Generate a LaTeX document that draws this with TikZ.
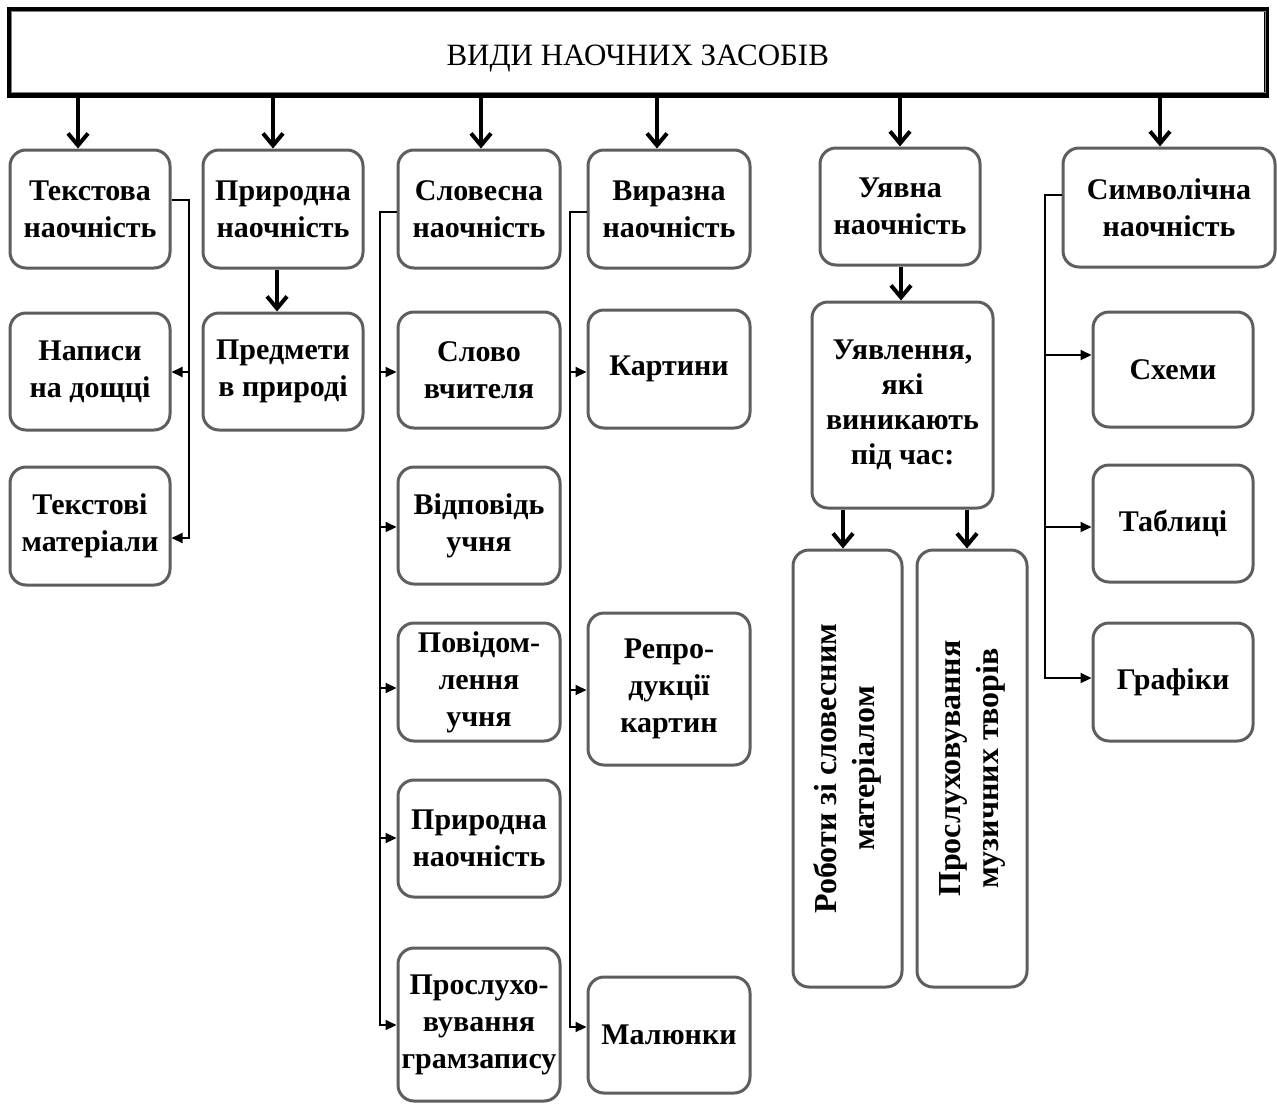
\documentclass[tikz,border=0pt]{standalone}
\usepackage{fontspec}
\usepackage{graphicx}
\setmainfont{Liberation Serif}
\usetikzlibrary{arrows.meta}
\definecolor{bordergray}{HTML}{5E5E5E}
\begin{document}
\begin{tikzpicture}[x=0.5pt,y=-0.5pt,
  rect/.style args={#1/#2/#3/#4}{at={({(#1+#3)/2},{(#2+#4)/2})},
    minimum width={(#3-#1)*0.5pt}, minimum height={(#4-#2)*0.5pt}},
  box/.style={draw=bordergray, line width=1.5pt, rounded corners=8pt, inner sep=0pt, align=center,
    font=\fontsize{15}{18.5}\selectfont\bfseries, fill=white},
  big/.style={line width=2pt, -{Straight Barb[length=6pt,width=10pt]}},
  arr/.style={line width=1pt, -{Triangle[length=5.5pt,width=5pt]}}]
\useasboundingbox (0,0) rectangle (1277,1103);

% title
\node[draw=black, line width=2.5pt, inner sep=0pt, rect=9.5/9.5/1266/95,
  text height=13pt, text depth=0pt,
  font=\fontsize{15.5}{18}\selectfont] (top) {ВИДИ НАОЧНИХ ЗАСОБІВ};
\draw[draw=gray, line width=0.8pt] ([xshift=2.25pt,yshift=-2.25pt]top.north west) rectangle ([xshift=-1.6pt,yshift=2.5pt]top.south east);

% boxes
\node[box, rect=10/150/170/268] (t1) {Текстова\\наочність};
\node[box, rect=10/313/170/430] (t2) {Написи\\на дощці};
\node[box, rect=10/467/170/585] (t3) {Текстові\\матеріали};

\node[box, rect=203/150/363/268] (p1) {Природна\\наочність};
\node[box, rect=203/313/363/430] (p2) {Предмети\\в природі};

\node[box, rect=398/150/560/268] (s1) {Словесна\\наочність};
\node[box, rect=398/312/560/428] (s2) {Слово\\вчителя};
\node[box, rect=398/467/560/584] (s3) {Відповідь\\учня};
\node[box, rect=398/623/560/741] (s4) {Повідом-\\лення\\учня};
\node[box, rect=398/780/560/897] (s5) {Природна\\наочність};
\node[box, rect=398/948/560/1101] (s6) {Прослухо-\\вування\\грамзапису};

\node[box, rect=588/150/750/268] (v1) {Виразна\\наочність};
\node[box, rect=588/310/750/428] (v2) {Картини};
\node[box, rect=588/613/750/765] (v3) {Репро-\\дукції\\картин};
\node[box, rect=588/977/750/1093] (v4) {Малюнки};

\node[box, rect=820/148/980/265] (u1) {Уявна\\наочність};
\node[box, rect=812/302/993/508, font=\fontsize{15}{17.5}\selectfont\bfseries] (u2) {Уявлення,\\які\\виникають\\під час:};
\node[box, rect=793/550/902/987] (u3) {\rotatebox{90}{\fontsize{16}{19}\selectfont\begin{tabular}{@{}c@{}}Роботи зі словесним\\матеріалом\end{tabular}}};
\node[box, rect=917/550/1027/987] (u4) {\rotatebox{90}{\fontsize{16}{19}\selectfont\begin{tabular}{@{}c@{}}Прослуховування\\музичних творів\end{tabular}}};

\node[box, rect=1063/148/1275/267] (c1) {Символічна\\наочність};
\node[box, rect=1093/312/1253/427] (c2) {Схеми};
\node[box, rect=1093/465/1253/582] (c3) {Таблиці};
\node[box, rect=1093/623/1253/741] (c4) {Графіки};

% arrows from title
\coordinate (a1) at (78,0);
\coordinate (a2) at (273,0);
\coordinate (a3) at (481,0);
\coordinate (a4) at (657,0);
\coordinate (a5) at (900,0);
\coordinate (a6) at (1160,0);
\draw[big] (top.south -| a1) -- (t1.north -| a1);
\draw[big] (top.south -| a2) -- (p1.north -| a2);
\draw[big] (top.south -| a3) -- (s1.north -| a3);
\draw[big] (top.south -| a4) -- (v1.north -| a4);
\draw[big] (top.south -| a5) -- (u1.north -| a5);
\draw[big] (top.south -| a6) -- (c1.north -| a6);

% vertical arrows
\coordinate (ap) at (277,0);
\coordinate (au) at (901,0);
\coordinate (ar1) at (843,0);
\coordinate (ar2) at (967,0);
\draw[big] (p1.south -| ap) -- (p2.north -| ap);
\draw[big] (u1.south -| au) -- (u2.north -| au);
\draw[big] (u2.south -| ar1) -- (u3.north -| ar1);
\draw[big] (u2.south -| ar2) -- (u4.north -| ar2);

% Текстова bus
\coordinate (bt0) at (189,200);
\coordinate (bt1) at (189,372);
\coordinate (bt2) at (189,538);
\draw[arr] (t1.east |- bt0) -- (bt0) |- (t3.east |- bt2);
\draw[arr] (bt1) -- (t2.east |- bt1);

% Словесна bus
\coordinate (bs0) at (380,212);
\coordinate (bs1) at (380,372);
\coordinate (bs2) at (380,527);
\coordinate (bs3) at (380,688);
\coordinate (bs4) at (380,838);
\coordinate (bs5) at (380,1025);
\draw[arr] (s1.west |- bs0) -- (bs0) |- (s6.west |- bs5);
\draw[arr] (bs1) -- (s2.west |- bs1);
\draw[arr] (bs2) -- (s3.west |- bs2);
\draw[arr] (bs3) -- (s4.west |- bs3);
\draw[arr] (bs4) -- (s5.west |- bs4);

% Виразна bus
\coordinate (bv0) at (570,212);
\coordinate (bv1) at (570,372);
\coordinate (bv2) at (570,690);
\coordinate (bv3) at (570,1027);
\draw[arr] (v1.west |- bv0) -- (bv0) |- (v4.west |- bv3);
\draw[arr] (bv1) -- (v2.west |- bv1);
\draw[arr] (bv2) -- (v3.west |- bv2);

% Символічна bus
\coordinate (bc0) at (1045,195);
\coordinate (bc1) at (1045,355);
\coordinate (bc2) at (1045,527);
\coordinate (bc3) at (1045,678);
\draw[arr] (c1.west |- bc0) -- (bc0) |- (c4.west |- bc3);
\draw[arr] (bc1) -- (c2.west |- bc1);
\draw[arr] (bc2) -- (c3.west |- bc2);
\end{tikzpicture}
\end{document}
